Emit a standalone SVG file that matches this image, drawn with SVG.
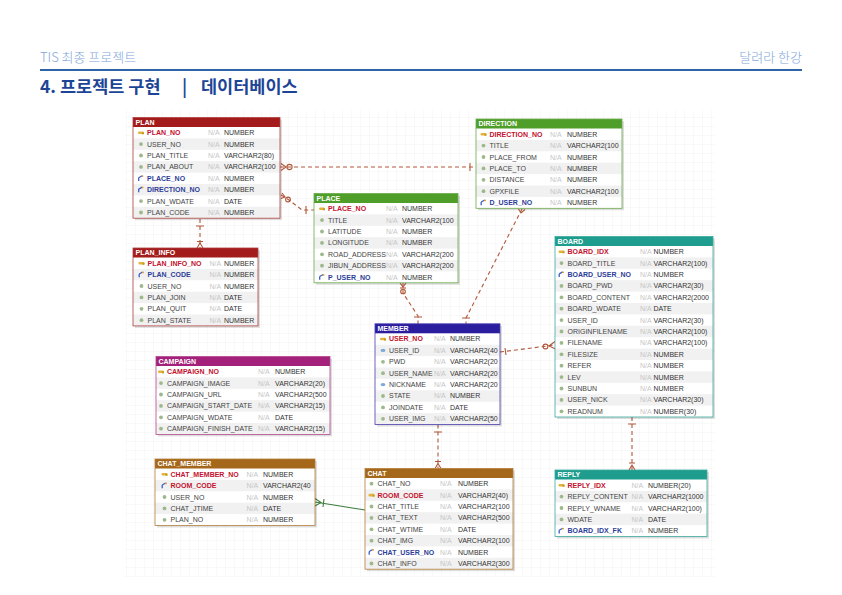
<svg xmlns="http://www.w3.org/2000/svg" xmlns:xlink="http://www.w3.org/1999/xlink" width="842" height="595" viewBox="0 0 842 595">
<style>
text{font-family:"Liberation Sans",Arial,sans-serif;font-size:7px}
.h{font-weight:bold;fill:#fff}
.n{fill:#444}
.pk{font-weight:bold;fill:#c4122f}
.fk{font-weight:bold;fill:#2d3e98}
.na{fill:#c6c6c6}
.t{fill:#333}
.sh{fill:#000;opacity:.13}
.bg{fill:#fff}
.st{fill:#f1f1f1}
.cn{fill:none;stroke:#b0573a;stroke-width:1.1;stroke-dasharray:4 3}
.mk{fill:none;stroke:#b0573a;stroke-width:1.1}
.hd{font-family:"Noto Sans CJK KR","Noto Sans",sans-serif}
</style>
<defs>
<pattern id="grid" width="9" height="9" patternUnits="userSpaceOnUse"><path d="M9 0H0V9" fill="none" stroke="#ebebeb" stroke-width="0.6"/></pattern>
<g id="ipk"><rect x="-3" y="-1.3" width="6" height="2.6" rx="1.2" fill="#e2b43c"/><rect x="1" y="-0.4" width="2" height="2" fill="#c99a22"/></g>
<circle id="icol" r="1.9" fill="#9bb98a"/>
<ellipse id="iuk" rx="2.4" ry="1.6" fill="#7fa9d6"/>
<g id="ifk"><path d="M-2.3,2.6 V-0.6 M-2.3,-0.6 L1.2,-2.6" fill="none" stroke="#3b5cc4" stroke-width="1.3"/><circle cx="1.6" cy="-2.2" r="0.9" fill="#e2a030"/></g>
</defs>

<rect width="842" height="595" fill="#fff"/>
<g id="header">
<text class="hd" x="40" y="62" fill="#7fa6da" style="font-size:13px;font-weight:300">TIS 최종 프로젝트</text>
<text class="hd" x="802" y="62" text-anchor="end" fill="#7fa6da" style="font-size:13px;font-weight:300">달려라 한강</text>
<line x1="40" y1="70" x2="802" y2="70" stroke="#2e63a8" stroke-width="2"/>
<text class="hd" y="93" fill="#1d4596" style="font-size:17.5px;font-weight:bold"><tspan x="40">4. 프로젝트 구현</tspan><tspan x="182">|</tspan><tspan x="201">데이터베이스</tspan></text>
</g>

<rect x="125" y="110" width="590" height="467" fill="url(#grid)"/>

<g id="connectors">
<path class="cn" d="M280,167 H476"/>
<path class="mk" d="M281,163.5 L286,167 L281,170.5 M470,163 V171"/>
<circle class="mk" cx="289.5" cy="167" r="2.6" fill="#fff"/>
<path class="cn" d="M281,195 L289,200 L302,210 H314"/>
<path class="mk" d="M281,198.5 L285,197 L282,193 M306,206 V214"/>
<circle class="mk" cx="288" cy="199.5" r="2.4" fill="#fff"/>
<path class="cn" d="M200,219 V248"/>
<path class="mk" d="M196,226 H204 M197,248 L200,243 L203,248 M197,241.5 H203"/>
<path class="cn" d="M403,283 V293 L418,316 V324"/>
<path class="mk" d="M400,283 L403,287 L406,283 M400,288 H406 M414,317 H422"/>
<circle class="mk" cx="403" cy="291.5" r="2.3" fill="#fff"/>
<path class="cn" d="M522,209 L466,318 V324"/>
<path class="mk" d="M518.5,209 L521,213 L525,209.5 M462,318 H470"/>
<path class="cn" d="M500,352 L555,345"/>
<path class="mk" d="M505,348 L506,355 M555,341.5 L549,346 L555.5,349"/>
<circle class="mk" cx="545.5" cy="346.5" r="2.4" fill="#fff"/>
<path class="cn" d="M632,417 V470"/>
<path class="mk" d="M628,424 H636 M629,470 L632,465 L635,470 M629,463 H635"/>
<path class="cn" d="M438,424.5 V468.5"/>
<path class="mk" d="M434,432 H442 M435,468.5 L438,463.5 L441,468.5 M435,461.5 H441"/>
<path d="M315,502 L365,510" fill="none" stroke="#3f7d3f" stroke-width="1.1"/>
<path d="M315,498.5 L321,502.5 L315,506 M324,499 L323,507" fill="none" stroke="#3f7d3f" stroke-width="1.1"/>
</g>

<g id="t-plan" transform="translate(133,117.5)">
<rect class="sh" x="2" y="2" width="147" height="100.7"/>
<rect class="bg" width="147" height="100.7"/>
<rect class="st" y="20.9" width="147" height="11.4"/><rect class="st" y="43.7" width="147" height="11.4"/><rect class="st" y="66.5" width="147" height="11.4"/><rect class="st" y="89.3" width="147" height="11.4"/>
<rect width="147" height="9.5" fill="#a31b1b"/>
<rect width="147" height="100.7" fill="none" stroke="#b04040" stroke-width="0.8"/>
<text class="h" x="2.5" y="7">PLAN</text>
<use href="#ipk" x="8" y="15.2"/><text class="pk" x="14" y="17.7">PLAN_NO</text><text class="na" x="75" y="17.7">N/A</text><text class="t" x="91" y="17.7">NUMBER</text>
<use href="#icol" x="8" y="26.6"/><text class="n" x="14" y="29.1">USER_NO</text><text class="na" x="75" y="29.1">N/A</text><text class="t" x="91" y="29.1">NUMBER</text>
<use href="#icol" x="8" y="38"/><text class="n" x="14" y="40.5">PLAN_TITLE</text><text class="na" x="75" y="40.5">N/A</text><text class="t" x="91" y="40.5">VARCHAR2(80)</text>
<use href="#icol" x="8" y="49.4"/><text class="n" x="14" y="51.9">PLAN_ABOUT</text><text class="na" x="75" y="51.9">N/A</text><text class="t" x="91" y="51.9">VARCHAR2(100</text>
<use href="#ifk" x="8" y="60.8"/><text class="fk" x="14" y="63.3">PLACE_NO</text><text class="na" x="75" y="63.3">N/A</text><text class="t" x="91" y="63.3">NUMBER</text>
<use href="#ifk" x="8" y="72.2"/><text class="fk" x="14" y="74.7">DIRECTION_NO</text><text class="na" x="75" y="74.7">N/A</text><text class="t" x="91" y="74.7">NUMBER</text>
<use href="#icol" x="8" y="83.6"/><text class="n" x="14" y="86.1">PLAN_WDATE</text><text class="na" x="75" y="86.1">N/A</text><text class="t" x="91" y="86.1">DATE</text>
<use href="#icol" x="8" y="95"/><text class="n" x="14" y="97.5">PLAN_CODE</text><text class="na" x="75" y="97.5">N/A</text><text class="t" x="91" y="97.5">NUMBER</text>
</g>

<g id="t-place" transform="translate(314,193.5)">
<rect class="sh" x="2" y="2" width="144" height="89.3"/>
<rect class="bg" width="144" height="89.3"/>
<rect class="st" y="20.9" width="144" height="11.4"/><rect class="st" y="43.7" width="144" height="11.4"/><rect class="st" y="66.5" width="144" height="11.4"/>
<rect width="144" height="9.5" fill="#4f9e2a"/>
<rect width="144" height="89.3" fill="none" stroke="#6aac4a" stroke-width="0.8"/>
<text class="h" x="2.5" y="7">PLACE</text>
<use href="#ipk" x="8" y="15.2"/><text class="pk" x="14" y="17.7">PLACE_NO</text><text class="na" x="72" y="17.7">N/A</text><text class="t" x="88" y="17.7">NUMBER</text>
<use href="#icol" x="8" y="26.6"/><text class="n" x="14" y="29.1">TITLE</text><text class="na" x="72" y="29.1">N/A</text><text class="t" x="88" y="29.1">VARCHAR2(100</text>
<use href="#icol" x="8" y="38"/><text class="n" x="14" y="40.5">LATITUDE</text><text class="na" x="72" y="40.5">N/A</text><text class="t" x="88" y="40.5">NUMBER</text>
<use href="#icol" x="8" y="49.4"/><text class="n" x="14" y="51.9">LONGITUDE</text><text class="na" x="72" y="51.9">N/A</text><text class="t" x="88" y="51.9">NUMBER</text>
<use href="#icol" x="8" y="60.8"/><text class="n" x="14" y="63.3">ROAD_ADDRESS</text><text class="na" x="72" y="63.3">N/A</text><text class="t" x="88" y="63.3">VARCHAR2(200</text>
<use href="#icol" x="8" y="72.2"/><text class="n" x="14" y="74.7">JIBUN_ADDRESS</text><text class="na" x="72" y="74.7">N/A</text><text class="t" x="88" y="74.7">VARCHAR2(200</text>
<use href="#ifk" x="8" y="83.6"/><text class="fk" x="14" y="86.1">P_USER_NO</text><text class="na" x="72" y="86.1">N/A</text><text class="t" x="88" y="86.1">NUMBER</text>
</g>

<g id="t-direction" transform="translate(476,119)">
<rect class="sh" x="2" y="2" width="146" height="89.3"/>
<rect class="bg" width="146" height="89.3"/>
<rect class="st" y="20.9" width="146" height="11.4"/><rect class="st" y="43.7" width="146" height="11.4"/><rect class="st" y="66.5" width="146" height="11.4"/>
<rect width="146" height="9.5" fill="#4f9e2a"/>
<rect width="146" height="89.3" fill="none" stroke="#6aac4a" stroke-width="0.8"/>
<text class="h" x="2.5" y="7">DIRECTION</text>
<use href="#ipk" x="7.5" y="15.2"/><text class="pk" x="13.5" y="17.7">DIRECTION_NO</text><text class="na" x="74" y="17.7">N/A</text><text class="t" x="91" y="17.7">NUMBER</text>
<use href="#icol" x="7.5" y="26.6"/><text class="n" x="13.5" y="29.1">TITLE</text><text class="na" x="74" y="29.1">N/A</text><text class="t" x="91" y="29.1">VARCHAR2(100</text>
<use href="#icol" x="7.5" y="38"/><text class="n" x="13.5" y="40.5">PLACE_FROM</text><text class="na" x="74" y="40.5">N/A</text><text class="t" x="91" y="40.5">NUMBER</text>
<use href="#icol" x="7.5" y="49.4"/><text class="n" x="13.5" y="51.9">PLACE_TO</text><text class="na" x="74" y="51.9">N/A</text><text class="t" x="91" y="51.9">NUMBER</text>
<use href="#icol" x="7.5" y="60.8"/><text class="n" x="13.5" y="63.3">DISTANCE</text><text class="na" x="74" y="63.3">N/A</text><text class="t" x="91" y="63.3">NUMBER</text>
<use href="#icol" x="7.5" y="72.2"/><text class="n" x="13.5" y="74.7">GPXFILE</text><text class="na" x="74" y="74.7">N/A</text><text class="t" x="91" y="74.7">VARCHAR2(100</text>
<use href="#ifk" x="7.5" y="83.6"/><text class="fk" x="13.5" y="86.1">D_USER_NO</text><text class="na" x="74" y="86.1">N/A</text><text class="t" x="91" y="86.1">NUMBER</text>
</g>

<g id="t-plan-info" transform="translate(133,248)">
<rect class="sh" x="2" y="2" width="125" height="77.9"/>
<rect class="bg" width="125" height="77.9"/>
<rect class="st" y="20.9" width="125" height="11.4"/><rect class="st" y="43.7" width="125" height="11.4"/><rect class="st" y="66.5" width="125" height="11.4"/>
<rect width="125" height="9.5" fill="#a31b1b"/>
<rect width="125" height="77.9" fill="none" stroke="#b04040" stroke-width="0.8"/>
<text class="h" x="2.5" y="7">PLAN_INFO</text>
<use href="#ipk" x="8.5" y="15.2"/><text class="pk" x="14.5" y="17.7">PLAN_INFO_NO</text><text class="na" x="76.5" y="17.7">N/A</text><text class="t" x="91" y="17.7">NUMBER</text>
<use href="#ifk" x="8.5" y="26.6"/><text class="fk" x="14.5" y="29.1">PLAN_CODE</text><text class="na" x="76.5" y="29.1">N/A</text><text class="t" x="91" y="29.1">NUMBER</text>
<use href="#icol" x="8.5" y="38"/><text class="n" x="14.5" y="40.5">USER_NO</text><text class="na" x="76.5" y="40.5">N/A</text><text class="t" x="91" y="40.5">NUMBER</text>
<use href="#icol" x="8.5" y="49.4"/><text class="n" x="14.5" y="51.9">PLAN_JOIN</text><text class="na" x="76.5" y="51.9">N/A</text><text class="t" x="91" y="51.9">DATE</text>
<use href="#icol" x="8.5" y="60.8"/><text class="n" x="14.5" y="63.3">PLAN_QUIT</text><text class="na" x="76.5" y="63.3">N/A</text><text class="t" x="91" y="63.3">DATE</text>
<use href="#icol" x="8.5" y="72.2"/><text class="n" x="14.5" y="74.7">PLAN_STATE</text><text class="na" x="76.5" y="74.7">N/A</text><text class="t" x="91" y="74.7">NUMBER</text>
</g>

<g id="t-board" transform="translate(555,236.5)">
<rect class="sh" x="2" y="2" width="158" height="180.5"/>
<rect class="bg" width="158" height="180.5"/>
<rect class="st" y="20.9" width="158" height="11.4"/><rect class="st" y="43.7" width="158" height="11.4"/><rect class="st" y="66.5" width="158" height="11.4"/><rect class="st" y="89.3" width="158" height="11.4"/><rect class="st" y="112.1" width="158" height="11.4"/><rect class="st" y="134.9" width="158" height="11.4"/><rect class="st" y="157.7" width="158" height="11.4"/>
<rect width="158" height="9.5" fill="#1e9d8f"/>
<rect width="158" height="180.5" fill="none" stroke="#3aaa9c" stroke-width="0.8"/>
<text class="h" x="2.5" y="7">BOARD</text>
<use href="#ipk" x="6.5" y="15.2"/><text class="pk" x="12.5" y="17.7">BOARD_IDX</text><text class="na" x="85" y="17.7">N/A</text><text class="t" x="98.5" y="17.7">NUMBER</text>
<use href="#icol" x="6.5" y="26.6"/><text class="n" x="12.5" y="29.1">BOARD_TITLE</text><text class="na" x="85" y="29.1">N/A</text><text class="t" x="98.5" y="29.1">VARCHAR2(100)</text>
<use href="#ifk" x="6.5" y="38"/><text class="fk" x="12.5" y="40.5">BOARD_USER_NO</text><text class="na" x="85" y="40.5">N/A</text><text class="t" x="98.5" y="40.5">NUMBER</text>
<use href="#icol" x="6.5" y="49.4"/><text class="n" x="12.5" y="51.9">BOARD_PWD</text><text class="na" x="85" y="51.9">N/A</text><text class="t" x="98.5" y="51.9">VARCHAR2(30)</text>
<use href="#icol" x="6.5" y="60.8"/><text class="n" x="12.5" y="63.3">BOARD_CONTENT</text><text class="na" x="85" y="63.3">N/A</text><text class="t" x="98.5" y="63.3">VARCHAR2(2000</text>
<use href="#icol" x="6.5" y="72.2"/><text class="n" x="12.5" y="74.7">BOARD_WDATE</text><text class="na" x="85" y="74.7">N/A</text><text class="t" x="98.5" y="74.7">DATE</text>
<use href="#icol" x="6.5" y="83.6"/><text class="n" x="12.5" y="86.1">USER_ID</text><text class="na" x="85" y="86.1">N/A</text><text class="t" x="98.5" y="86.1">VARCHAR2(30)</text>
<use href="#icol" x="6.5" y="95"/><text class="n" x="12.5" y="97.5">ORIGINFILENAME</text><text class="na" x="85" y="97.5">N/A</text><text class="t" x="98.5" y="97.5">VARCHAR2(100)</text>
<use href="#icol" x="6.5" y="106.4"/><text class="n" x="12.5" y="108.9">FILENAME</text><text class="na" x="85" y="108.9">N/A</text><text class="t" x="98.5" y="108.9">VARCHAR2(100)</text>
<use href="#icol" x="6.5" y="117.8"/><text class="n" x="12.5" y="120.3">FILESIZE</text><text class="na" x="85" y="120.3">N/A</text><text class="t" x="98.5" y="120.3">NUMBER</text>
<use href="#icol" x="6.5" y="129.2"/><text class="n" x="12.5" y="131.7">REFER</text><text class="na" x="85" y="131.7">N/A</text><text class="t" x="98.5" y="131.7">NUMBER</text>
<use href="#icol" x="6.5" y="140.6"/><text class="n" x="12.5" y="143.1">LEV</text><text class="na" x="85" y="143.1">N/A</text><text class="t" x="98.5" y="143.1">NUMBER</text>
<use href="#icol" x="6.5" y="152"/><text class="n" x="12.5" y="154.5">SUNBUN</text><text class="na" x="85" y="154.5">N/A</text><text class="t" x="98.5" y="154.5">NUMBER</text>
<use href="#icol" x="6.5" y="163.4"/><text class="n" x="12.5" y="165.9">USER_NICK</text><text class="na" x="85" y="165.9">N/A</text><text class="t" x="98.5" y="165.9">VARCHAR2(30)</text>
<use href="#icol" x="6.5" y="174.8"/><text class="n" x="12.5" y="177.3">READNUM</text><text class="na" x="85" y="177.3">N/A</text><text class="t" x="98.5" y="177.3">NUMBER(30)</text>
</g>

<g id="t-member" transform="translate(375,323.8)">
<rect class="sh" x="2" y="2" width="125" height="100.7"/>
<rect class="bg" width="125" height="100.7"/>
<rect class="st" y="20.9" width="125" height="11.4"/><rect class="st" y="43.7" width="125" height="11.4"/><rect class="st" y="66.5" width="125" height="11.4"/><rect class="st" y="89.3" width="125" height="11.4"/>
<rect width="125" height="9.5" fill="#2b1e9e"/>
<rect width="125" height="100.7" fill="none" stroke="#4a3eb0" stroke-width="0.8"/>
<text class="h" x="2.5" y="7">MEMBER</text>
<use href="#ipk" x="8" y="15.2"/><text class="pk" x="14" y="17.7">USER_NO</text><text class="na" x="59" y="17.7">N/A</text><text class="t" x="75" y="17.7">NUMBER</text>
<use href="#iuk" x="8" y="26.6"/><text class="n" x="14" y="29.1">USER_ID</text><text class="na" x="59" y="29.1">N/A</text><text class="t" x="75" y="29.1">VARCHAR2(40</text>
<use href="#icol" x="8" y="38"/><text class="n" x="14" y="40.5">PWD</text><text class="na" x="59" y="40.5">N/A</text><text class="t" x="75" y="40.5">VARCHAR2(20</text>
<use href="#icol" x="8" y="49.4"/><text class="n" x="14" y="51.9">USER_NAME</text><text class="na" x="59" y="51.9">N/A</text><text class="t" x="75" y="51.9">VARCHAR2(20</text>
<use href="#iuk" x="8" y="60.8"/><text class="n" x="14" y="63.3">NICKNAME</text><text class="na" x="59" y="63.3">N/A</text><text class="t" x="75" y="63.3">VARCHAR2(20</text>
<use href="#icol" x="8" y="72.2"/><text class="n" x="14" y="74.7">STATE</text><text class="na" x="59" y="74.7">N/A</text><text class="t" x="75" y="74.7">NUMBER</text>
<use href="#icol" x="8" y="83.6"/><text class="n" x="14" y="86.1">JOINDATE</text><text class="na" x="59" y="86.1">N/A</text><text class="t" x="75" y="86.1">DATE</text>
<use href="#icol" x="8" y="95"/><text class="n" x="14" y="97.5">USER_IMG</text><text class="na" x="59" y="97.5">N/A</text><text class="t" x="75" y="97.5">VARCHAR2(50</text>
</g>

<g id="t-campaign" transform="translate(156,356.5)">
<rect class="sh" x="2" y="2" width="174" height="77.9"/>
<rect class="bg" width="174" height="77.9"/>
<rect class="st" y="20.9" width="174" height="11.4"/><rect class="st" y="43.7" width="174" height="11.4"/><rect class="st" y="66.5" width="174" height="11.4"/>
<rect width="174" height="9.5" fill="#a3217a"/>
<rect width="174" height="77.9" fill="none" stroke="#b4468e" stroke-width="0.8"/>
<text class="h" x="2.5" y="7">CAMPAIGN</text>
<use href="#ipk" x="5" y="15.2"/><text class="pk" x="11" y="17.7">CAMPAIGN_NO</text><text class="na" x="102" y="17.7">N/A</text><text class="t" x="119" y="17.7">NUMBER</text>
<use href="#icol" x="5" y="26.6"/><text class="n" x="11" y="29.1">CAMPAIGN_IMAGE</text><text class="na" x="102" y="29.1">N/A</text><text class="t" x="119" y="29.1">VARCHAR2(20)</text>
<use href="#icol" x="5" y="38"/><text class="n" x="11" y="40.5">CAMPAIGN_URL</text><text class="na" x="102" y="40.5">N/A</text><text class="t" x="119" y="40.5">VARCHAR2(500</text>
<use href="#icol" x="5" y="49.4"/><text class="n" x="11" y="51.9">CAMPAIGN_START_DATE</text><text class="na" x="102" y="51.9">N/A</text><text class="t" x="119" y="51.9">VARCHAR2(15)</text>
<use href="#icol" x="5" y="60.8"/><text class="n" x="11" y="63.3">CAMPAIGN_WDATE</text><text class="na" x="102" y="63.3">N/A</text><text class="t" x="119" y="63.3">DATE</text>
<use href="#icol" x="5" y="72.2"/><text class="n" x="11" y="74.7">CAMPAIGN_FINISH_DATE</text><text class="na" x="102" y="74.7">N/A</text><text class="t" x="119" y="74.7">VARCHAR2(15)</text>
</g>

<g id="t-chat-member" transform="translate(155,459)">
<rect class="sh" x="2" y="2" width="160" height="66.5"/>
<rect class="bg" width="160" height="66.5"/>
<rect class="st" y="20.9" width="160" height="11.4"/><rect class="st" y="43.7" width="160" height="11.4"/>
<rect width="160" height="9.5" fill="#a5671a"/>
<rect width="160" height="66.5" fill="none" stroke="#b57f3a" stroke-width="0.8"/>
<text class="h" x="2.5" y="7">CHAT_MEMBER</text>
<use href="#ipk" x="9.5" y="15.2"/><text class="pk" x="15.5" y="17.7">CHAT_MEMBER_NO</text><text class="na" x="91.5" y="17.7">N/A</text><text class="t" x="108" y="17.7">NUMBER</text>
<use href="#ifk" x="9.5" y="26.6"/><text class="pk" x="15.5" y="29.1">ROOM_CODE</text><text class="na" x="91.5" y="29.1">N/A</text><text class="t" x="108" y="29.1">VARCHAR2(40</text>
<use href="#icol" x="9.5" y="38"/><text class="n" x="15.5" y="40.5">USER_NO</text><text class="na" x="91.5" y="40.5">N/A</text><text class="t" x="108" y="40.5">NUMBER</text>
<use href="#icol" x="9.5" y="49.4"/><text class="n" x="15.5" y="51.9">CHAT_JTIME</text><text class="na" x="91.5" y="51.9">N/A</text><text class="t" x="108" y="51.9">DATE</text>
<use href="#icol" x="9.5" y="60.8"/><text class="n" x="15.5" y="63.3">PLAN_NO</text><text class="na" x="91.5" y="63.3">N/A</text><text class="t" x="108" y="63.3">NUMBER</text>
</g>

<g id="t-chat" transform="translate(365,468.5)">
<rect class="sh" x="2" y="2" width="148" height="100.7"/>
<rect class="bg" width="148" height="100.7"/>
<rect class="st" y="20.9" width="148" height="11.4"/><rect class="st" y="43.7" width="148" height="11.4"/><rect class="st" y="66.5" width="148" height="11.4"/><rect class="st" y="89.3" width="148" height="11.4"/>
<rect width="148" height="9.5" fill="#a5671a"/>
<rect width="148" height="100.7" fill="none" stroke="#b57f3a" stroke-width="0.8"/>
<text class="h" x="2.5" y="7">CHAT</text>
<use href="#icol" x="6.5" y="15.2"/><text class="n" x="12.5" y="17.7">CHAT_NO</text><text class="na" x="75" y="17.7">N/A</text><text class="t" x="93" y="17.7">NUMBER</text>
<use href="#ipk" x="6.5" y="26.6"/><text class="pk" x="12.5" y="29.1">ROOM_CODE</text><text class="na" x="75" y="29.1">N/A</text><text class="t" x="93" y="29.1">VARCHAR2(40)</text>
<use href="#icol" x="6.5" y="38"/><text class="n" x="12.5" y="40.5">CHAT_TITLE</text><text class="na" x="75" y="40.5">N/A</text><text class="t" x="93" y="40.5">VARCHAR2(100</text>
<use href="#icol" x="6.5" y="49.4"/><text class="n" x="12.5" y="51.9">CHAT_TEXT</text><text class="na" x="75" y="51.9">N/A</text><text class="t" x="93" y="51.9">VARCHAR2(500</text>
<use href="#icol" x="6.5" y="60.8"/><text class="n" x="12.5" y="63.3">CHAT_WTIME</text><text class="na" x="75" y="63.3">N/A</text><text class="t" x="93" y="63.3">DATE</text>
<use href="#icol" x="6.5" y="72.2"/><text class="n" x="12.5" y="74.7">CHAT_IMG</text><text class="na" x="75" y="74.7">N/A</text><text class="t" x="93" y="74.7">VARCHAR2(100</text>
<use href="#ifk" x="6.5" y="83.6"/><text class="fk" x="12.5" y="86.1">CHAT_USER_NO</text><text class="na" x="75" y="86.1">N/A</text><text class="t" x="93" y="86.1">NUMBER</text>
<use href="#icol" x="6.5" y="95"/><text class="n" x="12.5" y="97.5">CHAT_INFO</text><text class="na" x="75" y="97.5">N/A</text><text class="t" x="93" y="97.5">VARCHAR2(300</text>
</g>

<g id="t-reply" transform="translate(555,470)">
<rect class="sh" x="2" y="2" width="152" height="66.5"/>
<rect class="bg" width="152" height="66.5"/>
<rect class="st" y="20.9" width="152" height="11.4"/><rect class="st" y="43.7" width="152" height="11.4"/>
<rect width="152" height="9.5" fill="#1e9d8f"/>
<rect width="152" height="66.5" fill="none" stroke="#3aaa9c" stroke-width="0.8"/>
<text class="h" x="2.5" y="7">REPLY</text>
<use href="#ipk" x="6.5" y="15.2"/><text class="pk" x="12.5" y="17.7">REPLY_IDX</text><text class="na" x="76.5" y="17.7">N/A</text><text class="t" x="93" y="17.7">NUMBER(20)</text>
<use href="#icol" x="6.5" y="26.6"/><text class="n" x="12.5" y="29.1">REPLY_CONTENT</text><text class="na" x="76.5" y="29.1">N/A</text><text class="t" x="93" y="29.1">VARCHAR2(1000</text>
<use href="#icol" x="6.5" y="38"/><text class="n" x="12.5" y="40.5">REPLY_WNAME</text><text class="na" x="76.5" y="40.5">N/A</text><text class="t" x="93" y="40.5">VARCHAR2(100)</text>
<use href="#icol" x="6.5" y="49.4"/><text class="n" x="12.5" y="51.9">WDATE</text><text class="na" x="76.5" y="51.9">N/A</text><text class="t" x="93" y="51.9">DATE</text>
<use href="#ifk" x="6.5" y="60.8"/><text class="fk" x="12.5" y="63.3">BOARD_IDX_FK</text><text class="na" x="76.5" y="63.3">N/A</text><text class="t" x="93" y="63.3">NUMBER</text>
</g>
</svg>
